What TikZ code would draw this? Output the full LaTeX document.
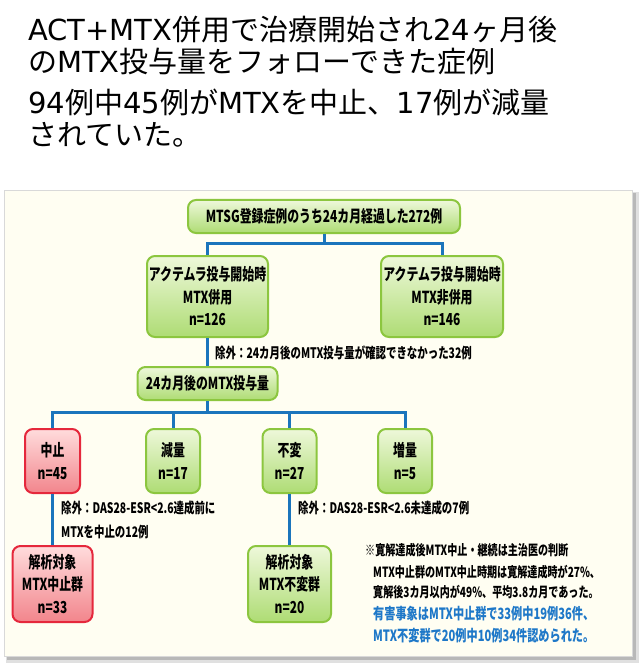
\documentclass[tikz,border=0pt]{standalone}
\usepackage{fontspec}
\setmainfont{Noto Sans CJK JP}
\newfontfamily\boxfont[FakeStretch=0.72]{Noto Sans CJK JP}
\newfontfamily\latfont{DejaVu Sans}
\definecolor{linkblue}{HTML}{1B75BC}
\definecolor{notblue}{HTML}{1E78C8}
\definecolor{boxgreen}{HTML}{8CC63F}
\definecolor{greentop}{HTML}{EEF8DA}
\definecolor{greenbot}{HTML}{AEDC74}
\definecolor{boxred}{HTML}{E5283C}
\definecolor{redtop}{HTML}{FFDCDC}
\definecolor{redbot}{HTML}{F2858C}
\definecolor{panel}{HTML}{FFFEF2}

\begin{document}
\begin{tikzpicture}[x=1pt,y=-1pt,
      link/.style={draw=linkblue,line width=3pt},
      main node/.style={rectangle,rounded corners=8pt,draw=boxgreen,line width=2pt,
        top color=greentop,bottom color=greenbot,align=center,inner sep=0pt,
        font=\boxfont\bfseries\fontsize{16.5}{22.5}\selectfont},
      stop node/.style={main node,draw=boxred,top color=redtop,bottom color=redbot},
      head/.style={anchor=base west,inner sep=0pt,font=\fontsize{29}{32}\selectfont},
      note/.style={anchor=west,inner sep=0pt,font=\boxfont\bfseries\fontsize{14.5}{20}\selectfont}]

    \useasboundingbox (0,0) rectangle (640,668);

    % heading
    \node[head] (h1) at (28,41) {{\latfont ACT+MTX}併用で治療開始され{\latfont 24}ヶ月後};
    \node[head] (h2) at (28,73) {の{\latfont MTX}投与量をフォローできた症例};
    \node[head] (h3) at (28,114) {{\latfont 94}例中{\latfont 45}例が{\latfont MTX}を中止、{\latfont 17}例が減量};
    \node[head] (h4) at (28,146) {されていた。};

    % panel
    \fill[black!12] (6,192) rectangle (639,663);
    \fill[black!28] (7,193) rectangle (636,660);
    \filldraw[fill=panel,draw=black!15] (4,190) rectangle (632,656);

    \node[main node,minimum width=272pt,minimum height=33pt] (1) at (324,216.5)
      {MTSG登録症例のうち24カ月経過した272例};
    \node[main node,minimum width=121pt,minimum height=81pt] (2) at (207.5,296.5)
      {アクテムラ投与開始時\\MTX併用\\n=126};
    \node[main node,minimum width=122pt,minimum height=81pt] (3) at (442,296.5)
      {アクテムラ投与開始時\\MTX非併用\\n=146};
    \node[main node,minimum width=140pt,minimum height=33pt] (4) at (207.5,383.5)
      {24カ月後のMTX投与量};

    \node[stop node,minimum width=55pt,minimum height=64pt] (5) at (52.5,461) {中止\\n=45};
    \node[main node,minimum width=54pt,minimum height=64pt] (6) at (173,461) {減量\\n=17};
    \node[main node,minimum width=54pt,minimum height=64pt] (7) at (289.5,461) {不変\\n=27};
    \node[main node,minimum width=54pt,minimum height=64pt] (8) at (405,461) {増量\\n=5};

    \node[stop node,minimum width=80pt,minimum height=76pt] (9) at (52.5,584)
      {解析対象\\MTX中止群\\n=33};
    \node[main node,minimum width=83pt,minimum height=76pt] (10) at (289.5,584)
      {解析対象\\MTX不変群\\n=20};

    \coordinate (j1) at (324,243);
    \coordinate (j2) at (207.5,412);

    \draw[link] (1) -- (j1) -| (2);
    \draw[link] (j1) -| (3);
    \draw[link] (4) -- (j2) -| (5);
    \draw[link] (j2) -| (6);
    \draw[link] (j2) -| (7);
    \draw[link] (j2) -| (8);
    \path[link]
    (2) edge (4)
    (5) edge (9)
    (7) edge (10);

    % exclusions and remarks
    \node[note] (e1) at (215,353) {除外：24カ月後のMTX投与量が確認できなかった32例};
    \node[note] (e2) at (61,508) {除外：DAS28-ESR<2.6達成前に};
    \node[note] (e3) at (61,532) {MTXを中止の12例};
    \node[note] (e4) at (298,508) {除外：DAS28-ESR<2.6未達成の7例};

    \node[note,font=\boxfont\bfseries\fontsize{14}{20}\selectfont] (r1) at (365,550)
      {※寛解達成後MTX中止・継続は主治医の判断};
    \node[note,font=\boxfont\bfseries\fontsize{14}{20}\selectfont] (r2) at (373,572)
      {MTX中止群のMTX中止時期は寛解達成時が27\%、};
    \node[note,font=\boxfont\bfseries\fontsize{14}{20}\selectfont] (r3) at (373,592)
      {寛解後3カ月以内が49\%、平均3.8カ月であった。};
    \node[note,text=notblue,font=\boxfont\bfseries\fontsize{15.5}{20}\selectfont] (r4) at (373,614)
      {有害事象はMTX中止群で33例中19例36件、};
    \node[note,text=notblue,font=\boxfont\bfseries\fontsize{15.5}{20}\selectfont] (r5) at (373,636)
      {MTX不変群で20例中10例34件認められた。};
\end{tikzpicture}
\end{document}
